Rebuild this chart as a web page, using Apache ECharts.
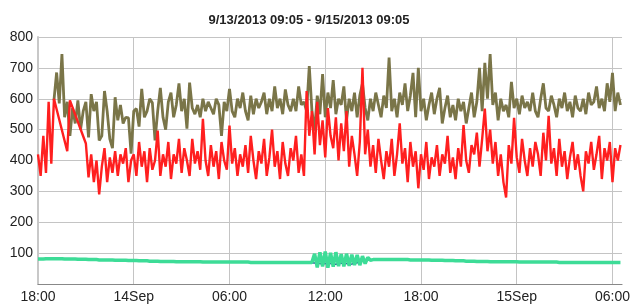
<!DOCTYPE html>
<html lang="en">
<head>
    <meta charset="UTF-8">
    <title>9/13/2013 09:05 - 9/15/2013 09:05</title>
    <script src="https://cdn.jsdelivr.net/npm/echarts@6/dist/echarts.min.js"></script>
    <style>
        html, body { margin: 0; padding: 0; background: #fff; }
    </style>
</head>
<body>
    <div id="main" style="width: 633px; height: 306px;"></div>
    <script>
        // x axis is hours after 9/13 18:00, one sample every 10 minutes
        const stepHours = 1 / 6;
        const xTickLabels = ['18:00', '14Sep', '06:00', '12:00', '18:00', '15Sep', '06:00'];

        // red series (gap before 20:00 is drawn as straight lines)
        const redValues = [
            420, 350, 480, 360, 590, 390,
            600, null, null, null, null, 430,
            595, null, null, null, null, null,
            455, 345, 420, 330, 400, 290,
            380, 440, 330, 410, 360, 430,
            350, 420, 390, 440, 330, 400,
            420, 350, 460, 380, 430, 330,
            440, 370, 400, 497, 350, 420,
            380, 460, 340, 420, 390, 470,
            360, 440, 400, 350, 470, 390,
            430, 370, 535, 400, 350, 450,
            380, 430, 340, 460, 400, 370,
            513, 390, 440, 350, 420, 380,
            450, 360, 480, 400, 340, 430,
            390, 470, 350, 410, 500, 380,
            430, 340, 460, 390, 350, 440,
            400, 480, 360, 420, 350, 625,
            480, 560, 420, 590, 450, 530,
            410, 570, 480, 440, 540, 400,
            520, 430, 560, 380, 480, 420,
            350, 460, 700, 420, 500, 380,
            450, 360, 470, 400, 340, 430,
            380, 470, 350, 420, 520, 390,
            440, 330, 460, 380, 430, 310,
            420, 370, 460, 340, 410, 380,
            450, 350, 420, 390, 480, 360,
            410, 340, 440, 380, 515, 400,
            360, 450, 420, 490, 380, 470,
            568, 430, 500, 390, 460, 350,
            420, 330, 280, 450, 390, 538,
            410, 360, 470, 400, 350, 440,
            380, 460, 420, 350, 490, 400,
            545, 390, 440, 350, 470, 380,
            430, 340, 410, 460, 370, 420,
            350, 300, 430, 390, 460, 370,
            420, 480, 340, 440, 400, 460,
            330, 440, 400, 450
        ];

        // olive series
        const oliveValues = [
            null, null, null, null, null, null,
            595, 685, 585, 745, 540, 590,
            480, 570, 520, 595, 500, 560,
            590, 475, 615, 560, 590, 465,
            480, 625, 560, 470, 440, 605,
            530, 580, 520, 540, 538, 422,
            560, 568, 510, 632, 540, 560,
            600, 587, 465, 560, 635, 540,
            500, 590, 620, 540, 580, 650,
            560, 600, 503, 652, 570, 550,
            580, 540, 600, 560, 590, 570,
            550, 600, 580, 480, 590, 560,
            632, 560, 540, 600, 570, 620,
            560, 530, 610, 550, 600, 570,
            590, 620, 550, 600, 560, 640,
            570, 600, 550, 630, 580, 560,
            600, 560, 640, 580, 590, 560,
            706, 560, 497, 610, 550, 680,
            540, 620, 570, 660, 550, 600,
            580, 640, 530, 600, 560, 620,
            540, 610, 650, 570, 530, 600,
            560, 620, 580, 540, 610, 570,
            733, 560, 600, 540, 620, 580,
            650, 560, 610, 684, 540, 700,
            560, 600, 530, 580, 620, 550,
            600, 635, 520, 570, 610, 540,
            580, 530, 600, 560, 590, 520,
            570, 620, 540, 590, 700, 560,
            716, 600, 745, 580, 620, 530,
            600, 560, 580, 540, 655, 570,
            600, 550, 610, 570, 590, 560,
            620, 560, 540, 600, 650, 570,
            560, 610, 580, 540, 600, 570,
            620, 560, 590, 540, 610, 570,
            560, 600, 550, 620, 580, 590,
            640, 570, 600, 560, 650, 590,
            684, 560, 620, 580
        ];

        // green series (noisy burst around 12:00)
        const greenValues = [
            81, 81, 81, 82, 82, 82,
            82, 82, 82, 82, 81, 81,
            81, 81, 81, 80, 80, 80,
            80, 79, 79, 79, 79, 78,
            78, 78, 78, 78, 78, 77,
            77, 77, 77, 77, 76, 76,
            76, 76, 75, 75, 75, 75,
            74, 74, 74, 74, 73, 73,
            73, 73, 73, 73, 72, 72,
            72, 72, 72, 72, 72, 72,
            72, 72, 71, 71, 71, 71,
            71, 71, 71, 71, 71, 71,
            71, 71, 71, 71, 71, 71,
            71, 71, 70, 70, 70, 70,
            70, 70, 70, 70, 70, 70,
            70, 70, 70, 70, 70, 70,
            70, 70, 70, 70, 70, 70,
            70, 70, 98, 54, 103, 57,
            105, 53, 101, 56, 103, 58,
            97, 57, 98, 59, 95, 61,
            94, 61, 90, 66, 86, 77,
            79, 79, 79, 79, 79, 79,
            79, 79, 79, 79, 79, 79,
            79, 79, 78, 78, 78, 78,
            78, 78, 78, 78, 77, 77,
            77, 77, 77, 76, 76, 76,
            76, 75, 75, 75, 75, 74,
            74, 74, 74, 73, 73, 73,
            73, 73, 72, 72, 72, 72,
            72, 72, 72, 72, 72, 72,
            72, 71, 71, 71, 71, 71,
            71, 71, 71, 71, 71, 71,
            71, 71, 71, 71, 70, 70,
            70, 70, 70, 70, 70, 70,
            70, 70, 70, 70, 70, 70,
            70, 70, 70, 70, 70, 70,
            70, 70, 70, 70
        ];

        // blue series, only visible through the green burst
        const blueValues = [];
        const blueStart = 100;
        const blueBurst = [
            70, 70, 70, 69, 68, 67,
            66, 65, 66, 67, 66, 65,
            64, 66, 67, 68, 66, 64,
            65, 67, 69, 71, 74, 77,
            78, 79
        ];

        function pairs(values) {
            return values.map((v, i) => [i * stepHours, v]);
        }
        for (let i = 0; i < blueStart; i++) blueValues.push(null);
        blueBurst.forEach(v => blueValues.push(v));

        var myChart = echarts.init(document.getElementById('main'));
        let option = {
            animation: false,
            title: {
                text: '9/13/2013 09:05 - 9/15/2013 09:05',
                left: 304,
                top: 9,
                textAlign: 'center',
                textStyle: { fontFamily: 'Liberation Sans', fontSize: 13, fontWeight: 'bold', color: '#222' }
            },
            grid: { left: 38, right: 4, top: 37, bottom: 22 },
            xAxis: {
                type: 'value',
                min: 0,
                max: 36.6,
                interval: 6,
                axisLine: { show: true, lineStyle: { color: '#888', width: 1 } },
                axisTick: { show: false },
                axisLabel: {
                    margin: 6,
                    showMaxLabel: false,
                    color: '#222',
                    fontFamily: 'Liberation Sans',
                    fontSize: 14,
                    formatter: v => (v % 6 === 0 ? xTickLabels[v / 6] : '')
                },
                splitLine: { show: true, showMaxLine: false, lineStyle: { color: '#c4c4c4', width: 1 } }
            },
            yAxis: {
                type: 'value',
                min: 0,
                max: 800,
                interval: 100,
                axisLine: { show: true, lineStyle: { color: '#c8c8c8', width: 2 } },
                axisTick: { show: false },
                axisLabel: {
                    margin: 5,
                    showMinLabel: false,
                    color: '#222',
                    fontFamily: 'Liberation Sans',
                    fontSize: 14
                },
                splitLine: { lineStyle: { color: '#c4c4c4', width: 1 } }
            },
            series: [
                {
                    type: 'line',
                    data: pairs(oliveValues),
                    symbol: 'none',
                    connectNulls: false,
                    lineStyle: { color: '#7a7548', width: 2.8 }
                },
                {
                    type: 'line',
                    data: pairs(redValues),
                    symbol: 'none',
                    connectNulls: true,
                    lineStyle: { color: '#ff1f1f', width: 2.4 }
                },
                {
                    type: 'line',
                    data: pairs(blueValues),
                    symbol: 'none',
                    lineStyle: { color: '#2a3f9e', width: 1.5 }
                },
                {
                    type: 'line',
                    data: pairs(greenValues),
                    symbol: 'none',
                    lineStyle: { color: '#3ddc97', width: 3.5 }
                }
            ]
        };
        myChart.setOption(option);
    </script>
</body>
</html>
